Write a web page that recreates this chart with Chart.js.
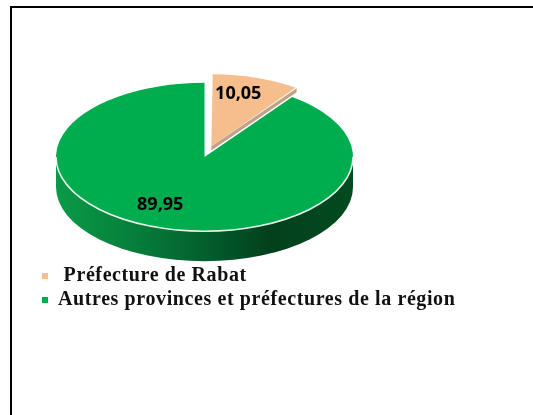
<!DOCTYPE html>
<html><head><meta charset="utf-8">
<style>
html,body{margin:0;padding:0;background:#fff;overflow:hidden}
#wrap{position:relative;width:533px;height:415px}
#frame{position:absolute;left:10px;top:6px;right:-10px;bottom:-10px;border-left:2px solid #000;border-top:2px solid #000}
canvas{position:absolute;left:0;top:0}
</style>
<script src="https://cdn.jsdelivr.net/npm/chart.js@4"></script>
</head><body>
<div id="wrap"><div id="frame"></div><canvas id="c" width="533" height="415"></canvas></div>
<script>
const categories = [' Préfecture de Rabat', 'Autres provinces et préfectures de la région'];
const shares = [10.05, 89.95];
const valueLabels = ['10,05', '89,95'];
const sliceColors = ['#F7BE8D', '#00AD4E'];

const TILT = 0.5, DEPTH = 30, CX = 204.5, CY = 157, R = 148.5;
const LABEL_SHIFT = [[4.3, -18.3], [-12, -2]];

function drawnRadius(el) {
  // Chart.js widens an offset arc when drawing it
  const fix = 1 - Math.sin(Math.min(Math.PI, el.circumference || 0));
  return el.outerRadius + (el.options.offset / 4) * fix;
}
function tilt(ctx, chart) {
  const a = chart.getDatasetMeta(0).data[0];
  ctx.translate(0, a.y);
  ctx.scale(1, TILT);
  ctx.translate(0, -a.y);
}
const pie3d = {
  id: 'pie3d',
  afterLayout(chart) {
    const A = chart.chartArea;
    A.left = CX - R; A.right = CX + R; A.top = CY - R; A.bottom = CY + R;
    A.width = 2 * R; A.height = 2 * R;
  },
  afterDatasetsUpdate(chart) {
    const p = chart.getDatasetMeta(0).data[0];
    p.outerRadius -= (drawnRadius(p) - p.outerRadius) + 4;
  },
  beforeDraw(chart) {
    chart.ctx.letterSpacing = '0.6px';
  },
  beforeDatasetsDraw(chart) {
    const ctx = chart.ctx, els = chart.getDatasetMeta(0).data, g = els[1];
    ctx.letterSpacing = '0px';
    const ry = g.outerRadius * TILT, rx = g.outerRadius;
    // side wall of the large slice
    const grad = ctx.createLinearGradient(g.x - rx, 0, g.x + rx, 0);
    grad.addColorStop(0, '#0A9A48');
    grad.addColorStop(0.3, '#057A38');
    grad.addColorStop(0.55, '#02582A');
    grad.addColorStop(0.72, '#03401C');
    grad.addColorStop(1, '#024A20');
    ctx.save();
    ctx.beginPath();
    ctx.ellipse(g.x, g.y, rx, ry, 0, 0, Math.PI);
    ctx.lineTo(g.x - rx, g.y + DEPTH);
    ctx.ellipse(g.x, g.y + DEPTH, rx, ry, 0, Math.PI, 0, true);
    ctx.closePath();
    ctx.fillStyle = grad;
    ctx.fill();
    ctx.restore();
    ctx.save();
    tilt(ctx, chart);
  },
  afterDatasetsDraw(chart) {
    const ctx = chart.ctx, els = chart.getDatasetMeta(0).data, g = els[1], p = els[0];
    ctx.restore();
    // white rim along the front edge
    ctx.save();
    ctx.beginPath();
    ctx.ellipse(g.x, g.y, g.outerRadius, g.outerRadius * TILT, 0, 0, Math.PI);
    ctx.strokeStyle = '#E9F5EC';
    ctx.lineWidth = 1.6;
    ctx.stroke();
    // thin cut face of the small slice (arc offset is applied at a quarter of its value)
    const mid = (p.startAngle + p.endAngle) / 2, shift = p.options.offset / 4, pr = drawnRadius(p);
    const ax = p.x + Math.cos(mid) * shift, ay = p.y + Math.sin(mid) * shift * TILT;
    const tx = ax + Math.cos(p.endAngle) * pr, ty = ay + Math.sin(p.endAngle) * pr * TILT;
    ctx.beginPath();
    ctx.moveTo(ax, ay);
    ctx.lineTo(tx, ty);
    ctx.lineTo(tx, ty + 4);
    ctx.lineTo(ax, ay + 4);
    ctx.closePath();
    ctx.fillStyle = '#BFA389';
    ctx.fill();
    // value labels
    ctx.font = 'bold 18px "Open Sans"';
    ctx.fillStyle = '#000';
    ctx.textAlign = 'center';
    ctx.textBaseline = 'middle';
    els.forEach((el, i) => {
      const m = (el.startAngle + el.endAngle) / 2, r = el.outerRadius * 0.7;
      ctx.fillText(valueLabels[i],
        el.x + Math.cos(m) * r + LABEL_SHIFT[i][0],
        el.y + Math.sin(m) * r * TILT + LABEL_SHIFT[i][1]);
    });
    ctx.restore();
  }
};
new Chart(document.getElementById('c'), {
  type: 'pie',
  data: {
    labels: categories,
    datasets: [{
      data: shares,
      backgroundColor: sliceColors,
      borderWidth: 0,
      offset: [88, 0],
      radius: R,
      clip: false
    }]
  },
  options: {
    responsive: false,
    animation: false,
    layout: { padding: { left: 38, right: 0, top: 0, bottom: 95 } },
    plugins: {
      tooltip: { enabled: false },
      legend: {
        position: 'bottom',
        align: 'start',
        labels: {
          boxWidth: 6, boxHeight: 6, padding: 4, color: '#111',
          font: { family: '"Liberation Serif"', size: 20, weight: 'bold' }
        }
      }
    }
  },
  plugins: [pie3d]
});
</script>
</body></html>
